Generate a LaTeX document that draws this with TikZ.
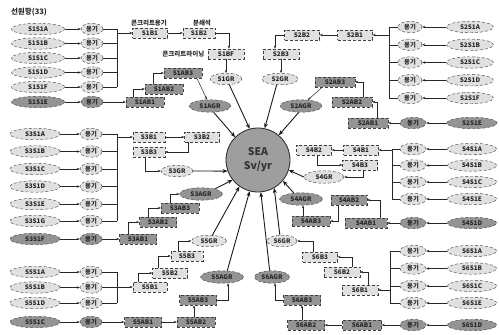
\documentclass[tikz,border=0pt]{standalone}
\usepackage{fontspec}
\setmainfont{Noto Sans CJK KR}
\usetikzlibrary{shapes.geometric,arrows.meta}
\tikzset{
 bx/.style={rectangle, draw=black!75, densely dashed, line width=0.4pt, minimum height=10.5pt, inner sep=0pt, font=\fontsize{6.3}{7}\selectfont\bfseries, text=black!85},
 lbox/.style={bx, fill=black!12},
 dbox/.style={bx, fill=black!42},
 el/.style={ellipse, draw=black!75, densely dashed, line width=0.4pt, minimum height=11.5pt, inner sep=0pt, font=\fontsize{6.3}{7}\selectfont\bfseries, text=black!85},
 lell/.style={el, fill=black!12},
 dell/.style={el, fill=black!42},
 arr/.style={draw=black!85, line width=0.5pt, -{Stealth[length=3pt,width=2.4pt]}},
 ln/.style={draw=black!85, line width=0.5pt},
 big/.style={draw=black!90, line width=0.9pt, -{Stealth[length=5pt,width=4pt]}},
 lab/.style={font=\fontsize{6.5}{7}\selectfont\bfseries, inner sep=0.5pt, text=black!85}
}
\begin{document}
\begin{tikzpicture}[x=1pt,y=-1pt]
\fill[white] (0,0) rectangle (499,335);
\useasboundingbox (0,0) rectangle (499,335);

\node[lab, font=\fontsize{7.5}{8}\selectfont\bfseries] (title) at (29,12) {선원항(33)};

% centre
\node[circle, draw=black!85, line width=0.8pt, fill=black!38, minimum size=64pt, inner sep=0pt,
      font=\fontsize{10.5}{13}\selectfont\bfseries, align=center, text=black!80] (sea) at (258,160) {SEA\\[1pt]Sv/yr};

% ---------------- S1 ----------------
\node[lbox, minimum width=35pt] (s1b1) at (150,33) {S1B1};
\node[lab] (l1) at (149,23) {콘크리트용기};
\node[lbox, minimum width=32pt] (s1b2) at (199,33) {S1B2};
\node[lab] (l2) at (202,23) {분쇄석};
\node[lbox, minimum width=36pt] (s1bf) at (226,54) {S1BF};
\node[lab, anchor=east] (l3) at (205,54) {콘크리트라이닝};
\node[lell, minimum width=32pt] (s1gr) at (226,79) {S1GR};
\coordinate (b1top) at (117,29);
\coordinate (b1bot) at (117,87);
\coordinate (b1out) at (117,33);
\foreach \l/\y in {A/29,B/43.5,C/58,D/72.5,F/87}{
  \node[lell, minimum width=53pt] (s1\l) at (38,\y) {S1S1\l};
  \node[lell, minimum width=22pt] (u1\l) at (92,\y) {용기};
  \draw[arr] (s1\l) -- (u1\l);
  \draw[ln] (u1\l.east) -- (u1\l.east -| b1top);
}
\draw[ln] (b1top) -- (b1bot);
\draw[arr] (b1out) -- (b1out -| s1b1.west);
\draw[arr] (s1b1) -- (s1b2);
\draw[arr] (s1b2.east) -| ([xshift=3pt]s1bf.north);
\draw[arr] (s1bf.south) -- (s1gr.north);
% dark
\node[dell, minimum width=53pt] (s1E) at (38,102) {S1S1E};
\node[dell, minimum width=22pt] (u1E) at (92,102) {용기};
\node[dbox, minimum width=38pt] (s1ab1) at (145,102) {S1AB1};
\node[dbox, minimum width=38pt] (s1ab2) at (164,89) {S1AB2};
\node[dbox, minimum width=38pt] (s1ab3) at (183,73) {S1AB3};
\node[dell, minimum width=42pt, minimum height=12.5pt] (s1agr) at (210,106) {S1AGR};
\draw[arr] (s1E) -- (u1E);
\draw[arr] (u1E) -- (s1ab1);
\draw[arr] ([xshift=-12pt]s1ab1.north) |- (s1ab2.west);
\draw[arr] ([xshift=-11pt]s1ab2.north) |- (s1ab3.west);
\draw[arr] ([xshift=14pt]s1ab3.south) -- (s1agr);

% ---------------- S2 ----------------
\node[lbox, minimum width=35pt] (s2b1) at (355,35) {S2B1};
\node[lbox, minimum width=35pt] (s2b2) at (302,35) {S2B2};
\node[lbox, minimum width=36pt] (s2b3) at (281,54) {S2B3};
\node[lell, minimum width=36pt] (s2gr) at (280,79) {S2GR};
\coordinate (b2top) at (389,27);
\coordinate (b2bot) at (389,98);
\coordinate (b2out) at (389,35);
\foreach \l/\y in {A/27,B/44.75,C/62.5,D/80.25,F/98}{
  \node[lell, minimum width=47pt] (s2\l) at (470,\y) {S2S1\l};
  \node[lell, minimum width=24pt] (u2\l) at (410,\y) {용기};
  \draw[arr] (s2\l) -- (u2\l);
  \draw[ln] (u2\l.west) -- (u2\l.west -| b2top);
}
\draw[ln] (b2top) -- (b2bot);
\draw[arr] (b2out) -- (b2out -| s2b1.east);
\draw[arr] (s2b1) -- (s2b2);
\draw[arr] (s2b2.west) -| ([xshift=-6pt]s2b3.north);
\draw[arr] (s2b3.south) -- (s2b3.south |- s2gr.north);
% dark
\node[dell, minimum width=50pt] (s2E) at (472,123) {S2S1E};
\node[dell, minimum width=26pt] (u2E) at (413,123) {용기};
\node[dbox, minimum width=40pt] (s2ab1) at (368,123) {S2AB1};
\node[dbox, minimum width=40pt] (s2ab2) at (352,102) {S2AB2};
\node[dbox, minimum width=40pt] (s2ab3) at (335,82) {S2AB3};
\node[dell, minimum width=42pt, minimum height=12.5pt] (s2agr) at (301,106) {S2AGR};
\draw[arr] (s2E) -- (u2E);
\draw[arr] (u2E) -- (s2ab1);
\draw[arr] ([xshift=9pt]s2ab1.north) |- (s2ab2.east);
\draw[arr] ([xshift=11pt]s2ab2.north) |- (s2ab3.east);
\draw[arr] ([xshift=-13pt]s2ab3.south) -- (s2agr);

% ---------------- S3 ----------------
\node[lbox, minimum width=32pt] (s3b1) at (149,137) {S3B1};
\node[lbox, minimum width=35pt] (s3b2) at (202,137) {S3B2};
\node[lbox, minimum width=32pt] (s3b3) at (149,152) {S3B3};
\node[lell, minimum width=32pt] (s3gr) at (177,171) {S3GR};
\coordinate (b3top) at (117,134);
\coordinate (b3bot) at (117,221);
\coordinate (b3out) at (117,137);
\foreach \l/\y in {A/134,B/151.5,C/169,D/186.5,E/204,G/221}{
  \node[lell, minimum width=50pt] (s3\l) at (35,\y) {S3S1\l};
  \node[lell, minimum width=22pt] (u3\l) at (91,\y) {용기};
  \draw[arr] (s3\l) -- (u3\l);
  \draw[ln] (u3\l.east) -- (u3\l.east -| b3top);
}
\draw[ln] (b3top) -- (b3bot);
\draw[arr] (b3out) -- (b3out -| s3b1.west);
\draw[arr] (s3b1) -- (s3b2);
\draw[arr] ([xshift=-14pt]s3b2.south) |- (s3b3.east);
\draw[arr] ([xshift=-4pt]s3b3.south) |- (s3gr.west);
% dark
\node[dell, minimum width=50pt] (s3F) at (35,239) {S3S1F};
\node[dell, minimum width=22pt] (u3F) at (91,239) {용기};
\node[dbox, minimum width=37pt] (s3ab1) at (138,239) {S3AB1};
\node[dbox, minimum width=37pt] (s3ab2) at (158,222) {S3AB2};
\node[dbox, minimum width=38pt] (s3ab3) at (180,208) {S3AB3};
\node[dell, minimum width=43pt, minimum height=12.5pt] (s3agr) at (201,194) {S3AGR};
\draw[arr] (s3F) -- (u3F);
\draw[arr] (u3F) -- (s3ab1);
\draw[arr] ([xshift=-10pt]s3ab1.north) |- (s3ab2.west);
\draw[arr] ([xshift=-10pt]s3ab2.north) |- (s3ab3.west);
\draw[arr] ([xshift=-10pt]s3ab3.north) |- (s3agr.west);

% ---------------- S4 ----------------
\node[lbox, minimum width=35pt] (s4b1) at (361,150) {S4B1};
\node[lbox, minimum width=35pt] (s4b2) at (314,150) {S4B2};
\node[lbox, minimum width=35pt] (s4b3) at (360,165) {S4B3};
\node[lell, minimum width=40pt, minimum height=12.5pt] (s4gr) at (324,177) {S4GR};
\coordinate (b4top) at (392,149);
\coordinate (b4bot) at (392,199);
\coordinate (b4out) at (392,150);
\foreach \l/\y in {A/149,B/165.5,C/182,E/199}{
  \node[lell, minimum width=49pt] (s4\l) at (472,\y) {S4S1\l};
  \node[lell, minimum width=26pt] (u4\l) at (413,\y) {용기};
  \draw[arr] (s4\l) -- (u4\l);
  \draw[ln] (u4\l.west) -- (u4\l.west -| b4top);
}
\draw[ln] (b4top) -- (b4bot);
\draw[arr] (b4out) -- (b4out -| s4b1.east);
\draw[arr] (s4b1) -- (s4b2);
\draw[arr] ([xshift=3pt]s4b2.south) |- (s4b3.west);
\draw[arr] ([xshift=3pt]s4b3.south) |- (s4gr.east);
% dark
\node[dell, minimum width=49pt] (s4D) at (472,223) {S4S1D};
\node[dell, minimum width=26pt] (u4D) at (413,223) {용기};
\node[dbox, minimum width=42pt] (s4ab1) at (366,223) {S4AB1};
\node[dbox, minimum width=36pt] (s4ab2) at (349,200) {S4AB2};
\node[dbox, minimum width=38pt] (s4ab3) at (311,221) {S4AB3};
\node[dell, minimum width=43pt, minimum height=12.5pt] (s4agr) at (301,199) {S4AGR};
\draw[arr] (s4D) -- (u4D);
\draw[arr] (u4D) -- (s4ab1);
\draw[arr] ([xshift=14pt]s4ab1.north) |- (s4ab2.east);
\draw[arr] ([xshift=-11pt]s4ab2.south) |- (s4ab3.east);
\draw[arr] ([xshift=-8pt]s4ab3.north) -- ([xshift=-8pt]s4ab3.north |- s4agr.south);

% ---------------- S5 ----------------
\node[lbox, minimum width=34pt] (s5b1) at (150,287) {S5B1};
\node[lbox, minimum width=35pt] (s5b2) at (170,273) {S5B2};
\node[lbox, minimum width=32pt] (s5b3) at (187,256) {S5B3};
\node[lell, minimum width=35pt] (s5gr) at (209,241) {S5GR};
\coordinate (b5top) at (117,272);
\coordinate (b5bot) at (117,303);
\coordinate (b5out) at (117,287);
\foreach \l/\y in {A/272,B/287.5,D/303}{
  \node[lell, minimum width=50pt] (s5\l) at (35,\y) {S5S1\l};
  \node[lell, minimum width=22pt] (u5\l) at (91,\y) {용기};
  \draw[arr] (s5\l) -- (u5\l);
  \draw[ln] (u5\l.east) -- (u5\l.east -| b5top);
}
\draw[ln] (b5top) -- (b5bot);
\draw[arr] (b5out) -- (b5out -| s5b1.west);
\draw[arr] ([xshift=-12pt]s5b1.north) |- (s5b2.west);
\draw[arr] ([xshift=-12pt]s5b2.north) |- (s5b3.west);
\draw[arr] ([xshift=-9pt]s5b3.north) |- (s5gr.west);
% dark
\node[dell, minimum width=50pt] (s5C) at (35,322) {S5S1C};
\node[dell, minimum width=22pt] (u5C) at (91,322) {용기};
\node[dbox, minimum width=37pt] (s5ab1) at (143,322) {S5AB1};
\node[dbox, minimum width=38pt] (s5ab2) at (196,322) {S5AB2};
\node[dbox, minimum width=37pt] (s5ab3) at (198,300) {S5AB3};
\node[dell, minimum width=43pt, minimum height=12.5pt] (s5agr) at (222,277) {S5AGR};
\draw[arr] (s5C) -- (u5C);
\draw[arr] (u5C) -- (s5ab1);
\draw[arr] (s5ab1) -- (s5ab2);
\draw[arr] ([xshift=-2pt]s5ab2.north) -- ([xshift=-2pt]s5ab2.north |- s5ab3.south);
\draw[arr] (s5ab3.east) -| ([xshift=6pt]s5agr.south);

% ---------------- S6 ----------------
\node[lbox, minimum width=36pt] (s6b1) at (360,290) {S6B1};
\node[lbox, minimum width=36pt] (s6b2) at (342,272) {S6B2};
\node[lbox, minimum width=35pt] (s6b3) at (320,257) {S6B3};
\node[lell, minimum width=30pt] (s6gr) at (282,241) {S6GR};
\coordinate (b6top) at (390,251);
\coordinate (b6bot) at (390,303);
\coordinate (b6out) at (390,290);
\foreach \l/\y in {A/251,B/268.5,C/286,E/303}{
  \node[lell, minimum width=49pt] (s6\l) at (472,\y) {S6S1\l};
  \node[lell, minimum width=26pt] (u6\l) at (413,\y) {용기};
  \draw[arr] (s6\l) -- (u6\l);
  \draw[ln] (u6\l.west) -- (u6\l.west -| b6top);
}
\draw[ln] (b6top) -- (b6bot);
\draw[arr] (b6out) -- (b6out -| s6b1.east);
\draw[arr] ([xshift=8pt]s6b1.north) |- (s6b2.east);
\draw[arr] ([xshift=10pt]s6b2.north) |- (s6b3.east);
\draw[arr] ([xshift=-7pt]s6b3.north) |- (s6gr.east);
% dark
\node[dell, minimum width=49pt] (s6D) at (472,325) {S6S1D};
\node[dell, minimum width=26pt] (u6D) at (413,325) {용기};
\node[dbox, minimum width=39pt] (s6ab1) at (362,325) {S6AB1};
\node[dbox, minimum width=37pt] (s6ab2) at (306,325) {S6AB2};
\node[dbox, minimum width=37pt] (s6ab3) at (302,300) {S6AB3};
\node[dell, minimum width=35pt, minimum height=12.5pt] (s6agr) at (272,277) {S6AGR};
\draw[arr] (s6D) -- (u6D);
\draw[arr] (u6D) -- (s6ab1);
\draw[arr] (s6ab1) -- (s6ab2);
\draw[arr] ([xshift=-4pt]s6ab2.north) -- ([xshift=-4pt]s6ab2.north |- s6ab3.south);
\draw[arr] (s6ab3.west) -| ([xshift=3pt]s6agr.south);

% ---------------- to SEA ----------------
\draw[big] (s1gr.-60) -- (sea.105);
\draw[big] (s1agr.-60) -- (sea.135);
\draw[big] (s2gr.-120) -- (sea.78);
\draw[big] (s2agr.-110) -- (sea.50);
\draw[big] (s3gr.east) -- (sea.200);
\draw[big] (s3agr.20) -- (sea.218);
\draw[big] (s4gr.west) -- (sea.-18);
\draw[big] (s4agr.140) -- (sea.-40);
\draw[big] (s5gr.60) -- (sea.235);
\draw[big] (s5agr.50) -- (sea.255);
\draw[big] (s6agr.110) -- (sea.275);
\draw[big] (s6gr.110) -- (sea.300);
\end{tikzpicture}
\end{document}
